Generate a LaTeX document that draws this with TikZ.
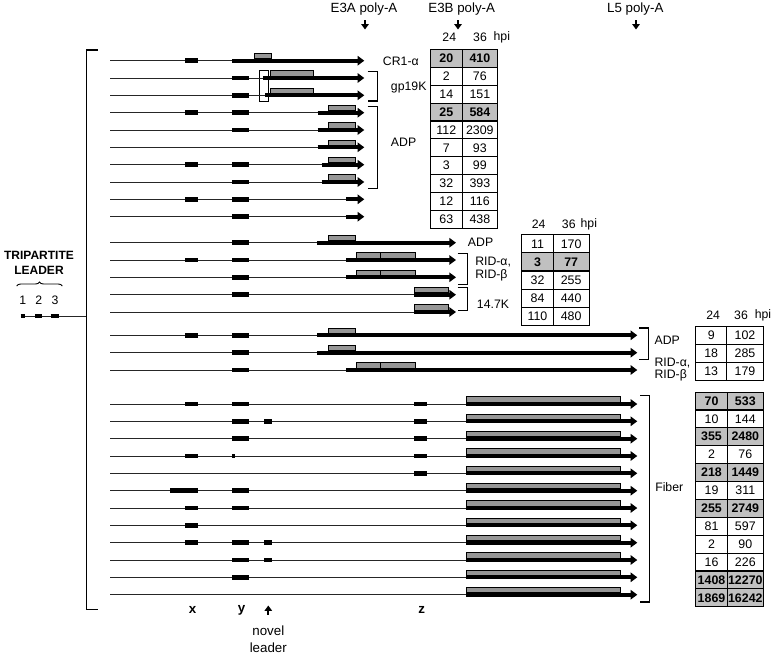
\documentclass[tikz,border=0pt]{standalone}
\usepackage{fontspec}
\setmainfont{Liberation Sans}
\usepackage{tikz}
\usetikzlibrary{arrows.meta, positioning, calc, decorations.pathreplacing}
\definecolor{orfgray}{RGB}{150, 150, 150}
\definecolor{cellgray}{RGB}{192, 192, 192}
\tikzset{
  backbone/.style={line width=0.7pt, black!85},
  exonbar/.style={line width=3.4pt},
  orfbar/.style={line width=3pt, -{Triangle[length=5pt, width=7pt]}},
  orfbox/.style={fill=orfgray, draw=black, line width=0.5pt},
  bracket/.style={line width=0.8pt},
  sitearrow/.style={line width=1.5pt, -{Triangle[length=4pt, width=5.5pt]}},
  polylbl/.style={font=\fontsize{10}{12}\selectfont},
  boldlbl/.style={font=\fontsize{9}{11}\selectfont\bfseries},
  exlbl/.style={font=\fontsize{10}{12}\selectfont\bfseries},
  cell/.style={draw, line width=0.6pt, inner sep=0pt, font=\fontsize{9.3}{11}\selectfont},
  hicell/.style={cell, fill=cellgray, font=\fontsize{9.3}{11}\selectfont\bfseries},
}

\begin{document}
\begin{tikzpicture}[x=0.75pt, y=-0.75pt, every node/.style={inner sep=0pt, font=\fontsize{9.2}{11}\selectfont}]
  \useasboundingbox (0,0) rectangle (777,656);

  % poly-A sites
  \node[polylbl] (e3a) at (364,9) {E3A poly-A};
  \node[polylbl] (e3b) at (461.7,9) {E3B poly-A};
  \node[polylbl] (l5) at (635.3,9) {L5 poly-A};
  \draw[sitearrow] (365,20.5) -- (365,29.5);
  \draw[sitearrow] (458,20.5) -- (458,29.5);
  \draw[sitearrow] (636,20.5) -- (636,29.5);

  % tripartite leader
  \node[boldlbl] (tpl) at (39,255) {TRIPARTITE};
  \node[boldlbl] (tpl2) at (39,270) {LEADER};
  \draw[decorate, decoration={brace, amplitude=3pt}, line width=0.7pt] (16.7,286) -- (62.3,286);
  \foreach \n/\xx in {1/22.7, 2/38.7, 3/55}
    \node (tp\n) at (\xx,300.7) {\n};
  \draw[backbone] (20.7,316) -- (86.7,316);
  \foreach \a/\b in {20.7/25, 35/42.3, 50.7/59.3}
    \draw[exonbar] (\a,316) -- (\b,316);
  \draw[bracket] (97.7,50) -| (86.7,609.3) -- (97.7,609.3);

  % open reading frames (grey)
  \foreach \r/\a/\b in {60.7/254/271.7, 78/270/313.3, 95.3/270/313.3,
      112.7/328.3/355.7, 130/328.3/355.7, 147.3/328.3/355.7, 164.7/328.3/355.7, 182/328.3/355.7,
      242.7/328.3/355.7, 335.3/328.3/355.7, 352.7/328.3/355.7,
      260/356.3/380.7, 260/380.7/415.7, 277.3/356.3/380.7, 277.3/380.7/415.7,
      370/356.3/380.7, 370/380.7/415.7, 294.7/414.3/448.7, 312/414.3/448.7}
    \draw[orfbox] (\a,{\r-7.4}) rectangle (\b,{\r-2});
  \foreach \r in {404, 421.3, 438.7, 456, 473.3, 490.7, 508, 525.3, 542.7, 560, 577.3, 594.7}
    \draw[orfbox] (466,{\r-7.4}) rectangle (620.7,{\r-2});
  \draw[line width=0.5pt] (259,70) rectangle (268.3,101);

  % transcripts
  \foreach \r/\s/\t in {60.7/232.3/364.3, 78/263.3/364.3, 95.3/265/364.3,
      112.7/317.7/364.3, 130/317.7/364.3, 147.3/317.7/364.3, 164.7/321.7/364.3,
      182/321.7/364.3, 199.3/346/364.3, 216.7/346/364.3,
      242.7/317.3/456, 260/346/456, 277.3/346/456, 294.7/414.3/456, 312/414.3/456,
      335.3/317.3/637.3, 352.7/317.3/637.3, 370/346/637.3,
      404/466/637.3, 421.3/466/637.3, 438.7/466/637.3, 456/466/637.3,
      473.3/466/637.3, 490.7/466/637.3, 508/466/637.3, 525.3/466/637.3,
      542.7/466/637.3, 560/466/637.3, 577.3/466/637.3, 594.7/466/637.3} {
    \draw[backbone] (110,\r) -- (\s,\r);
    \draw[orfbar] (\s,\r) -- (\t,\r);
  }

  % exons x, y, novel leader, z
  \foreach \r in {60.7, 112.7, 164.7, 199.3, 260, 335.3, 404, 456, 508, 525.3, 542.7}
    \draw[exonbar] (185,\r) -- (197.7,\r);
  \draw[exonbar] (170,490.7) -- (197.7,490.7);
  \foreach \r in {78, 95.3, 112.7, 130, 164.7, 182, 199.3, 216.7, 242.7, 260, 277.3, 294.7,
      335.3, 352.7, 370, 404, 421.3, 438.7, 490.7, 508, 542.7, 560, 577.3}
    \draw[exonbar] (232.3,\r) -- (249,\r);
  \draw[exonbar] (232.3,456) -- (234.8,456);
  \foreach \r in {421.3, 542.7, 560}
    \draw[exonbar] (264,\r) -- (271.7,\r);
  \foreach \r in {404, 421.3, 438.7, 456, 473.3}
    \draw[exonbar] (414,\r) -- (427,\r);

  % brackets and protein labels
  \draw[bracket] (367.7,71.7) -| (377.7,101) -- (367.7,101);
  \draw[bracket] (367.7,106.7) -| (377.7,188.3) -- (367.7,188.3);
  \draw[bracket] (457.7,253.3) -| (467.3,284.3) -- (457.7,284.3);
  \draw[bracket] (457.7,287.7) -| (467.3,310.7) -- (457.7,310.7);
  \draw[bracket] (639.3,328) -| (648.7,359.3) -- (639.3,359.3);
  \draw[bracket] (640,395.7) -| (649.3,602) -- (640,602);
  \node[anchor=west] (cr1) at (382.7,61) {CR1-α};
  \node[anchor=west] (gp19) at (390.7,87.3) {gp19K};
  \node[anchor=west] (adp1) at (390.7,142.3) {ADP};
  \node[anchor=west] (adp2) at (467.7,242.7) {ADP};
  \node[anchor=west] (rida2) at (475,261.7) {RID-α,};
  \node[anchor=west] (ridb2) at (475,275) {RID-β};
  \node[anchor=west] (k147) at (476.7,304) {14.7K};
  \node[anchor=west] (adp3) at (654.3,340.7) {ADP};
  \node[anchor=west] (rida3) at (654.3,362.7) {RID-α,};
  \node[anchor=west] (ridb3) at (654.3,375.7) {RID-β};
  \node[anchor=west] (fiber) at (655,486.7) {Fiber};

  % read counts
  \foreach \h/\xx in {24/449.3, 36/480, hpi/501.8} \node (ha\h) at (\xx,37.3) {\h};
  \foreach \a/\b/\s [count=\i] in {20/410/hicell, 2/76/cell, 14/151/cell, 25/584/hicell,
      112/2309/cell, 7/93/cell, 3/99/cell, 32/393/cell, 12/116/cell, 63/438/cell} {
    \node[\s, minimum width=23.5pt, minimum height=13.4pt] (ta\i) at (446.35,{49.3+(\i-0.5)*17.9}) {\a};
    \node[\s, minimum width=26.8pt, minimum height=13.4pt] (tb\i) at (479.85,{49.3+(\i-0.5)*17.9}) {\b};
  }
  \foreach \h/\xx in {24/538.7, 36/568.8, hpi/588.8} \node (hb\h) at (\xx,224) {\h};
  \foreach \a/\b/\s [count=\i] in {11/170/cell, 3/77/hicell, 32/255/cell, 84/440/cell, 110/480/cell} {
    \node[\s, minimum width=23.7pt, minimum height=13.6pt] (ua\i) at (537.5,{234.7+(\i-0.5)*18.1}) {\a};
    \node[\s, minimum width=26.8pt, minimum height=13.6pt] (ub\i) at (571.15,{234.7+(\i-0.5)*18.1}) {\b};
  }
  \foreach \h/\xx in {24/713.2, 36/741, hpi/763} \node (hc\h) at (\xx,315) {\h};
  \foreach \a/\b/\s [count=\i] in {9/102/cell, 18/285/cell, 13/179/cell} {
    \node[\s, minimum width=23.25pt, minimum height=13.5pt] (va\i) at (711.2,{326+(\i-0.5)*18}) {\a};
    \node[\s, minimum width=27.45pt, minimum height=13.5pt] (vb\i) at (745,{326+(\i-0.5)*18}) {\b};
  }
  \foreach \a/\b/\s [count=\i] in {70/533/hicell, 10/144/cell, 355/2480/hicell, 2/76/cell,
      218/1449/hicell, 19/311/cell, 255/2749/hicell, 81/597/cell, 2/90/cell, 16/226/cell,
      1408/12270/hicell, 1869/16242/hicell} {
    \node[\s, minimum width=23.7pt, minimum height=13.4pt] (wa\i) at (711.5,{392+(\i-0.5)*17.89}) {\a};
    \node[\s, minimum width=27pt, minimum height=13.4pt] (wb\i) at (745.3,{392+(\i-0.5)*17.89}) {\b};
  }

  % exon names
  \node[exlbl] (ex) at (192.7,610) {x};
  \node[exlbl] (ey) at (241.7,610) {y};
  \node[exlbl] (ez) at (421.7,610) {z};
  \node[polylbl] (nov) at (268.3,631) {novel};
  \node[polylbl] (lead) at (268.3,647.3) {leader};
  \draw[sitearrow] (268.3,614.5) -- (268.3,605.5);
\end{tikzpicture}
\end{document}
